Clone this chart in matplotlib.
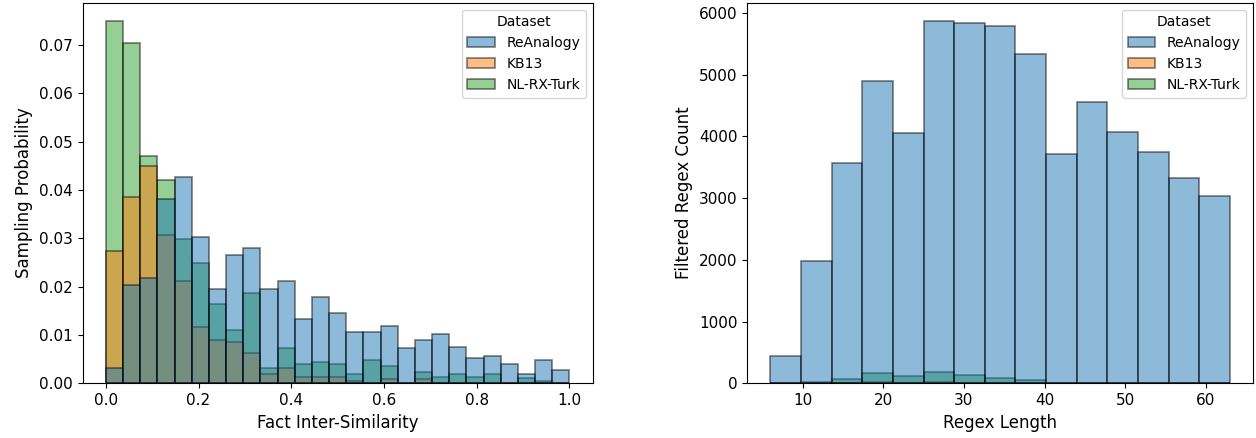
import numpy as np
import matplotlib
matplotlib.use("Agg")
import matplotlib.pyplot as plt
from matplotlib.patches import Patch

datasets = ["ReAnalogy", "KB13", "NL-RX-Turk"]
colors = ["#1f77b4", "#ff7f0e", "#2ca02c"]

# Left panel: Fact Inter-Similarity, 27 bins over [0, 1]
sim_range = (0.0, 1.0)
sim_nbins = 27
sim_reanalogy = [0.0031, 0.0203, 0.0217, 0.0381, 0.0426, 0.0302, 0.0196, 0.0266, 0.0279,
                 0.0196, 0.0212, 0.0134, 0.0179, 0.0146, 0.0106, 0.0106, 0.0119, 0.0072,
                 0.0089, 0.0102, 0.0076, 0.0052, 0.0057, 0.0040, 0.0019, 0.0048, 0.0027]
sim_kb13 = [0.0274, 0.0385, 0.0449, 0.0307, 0.0212, 0.0117, 0.0089, 0.0085, 0.0062,
            0.0019, 0.0031, 0.0014, 0.0012, 0.0012, 0.0005, 0.0, 0.0008, 0.0,
            0.0008, 0.0, 0.0, 0.0, 0.0, 0.0, 0.0, 0.0, 0.0]
sim_nlrx = [0.0750, 0.0705, 0.0471, 0.0421, 0.0298, 0.0248, 0.0164, 0.0110, 0.0187,
            0.0031, 0.0072, 0.0040, 0.0045, 0.0039, 0.0019, 0.0048, 0.0036, 0.0,
            0.0024, 0.0012, 0.0019, 0.0014, 0.0019, 0.0, 0.0010, 0.0005, 0.0]

# Right panel: Regex Length, 15 bins over [6, 63]
len_range = (6.0, 63.0)
len_nbins = 15
len_reanalogy = [443, 1982, 3569, 4892, 4050, 5875, 5842, 5788, 5329, 3715, 4552, 4066, 3753, 3332, 3029]
len_kb13 = [0, 5, 10, 15, 12, 15, 12, 8, 5, 0, 0, 0, 0, 0, 0]
len_nlrx = [0, 16, 70, 165, 120, 178, 135, 80, 49, 0, 0, 0, 0, 0, 0]

fig = plt.figure(figsize=(12.56, 4.38), dpi=100)
ax1 = fig.add_axes([0.0658, 0.1249, 0.406, 0.869])
ax2 = fig.add_axes([0.595, 0.1249, 0.4026, 0.869])


def layered(ax, rng, nbins, series):
    edges = np.linspace(rng[0], rng[1], nbins + 1)
    w = edges[1] - edges[0]
    # draw in reverse so first hue level is on top
    for vals, col in reversed(list(zip(series, colors))):
        ax.bar(edges[:-1], vals, width=w, align="edge", color=col, alpha=0.5,
               edgecolor="black", linewidth=1.2)
    handles = [Patch(facecolor=c, edgecolor="black", alpha=0.5, linewidth=1.2) for c in colors]
    ax.legend(handles, datasets, title="Dataset", loc="upper right", fontsize=10,
              title_fontsize=10)


layered(ax1, sim_range, sim_nbins, [sim_reanalogy, sim_kb13, sim_nlrx])
layered(ax2, len_range, len_nbins, [len_reanalogy, len_kb13, len_nlrx])

ax1.set_xlabel("Fact Inter-Similarity", fontsize=12)
ax1.set_ylabel("Sampling Probability", fontsize=12)
ax2.set_xlabel("Regex Length", fontsize=12)
ax2.set_ylabel("Filtered Regex Count", fontsize=12)
for ax in (ax1, ax2):
    ax.tick_params(labelsize=11)
ax1.set_yticks(np.arange(0, 0.0701, 0.01))
ax2.set_yticks(np.arange(0, 6001, 1000))

fig.savefig("out.png", dpi=100)
